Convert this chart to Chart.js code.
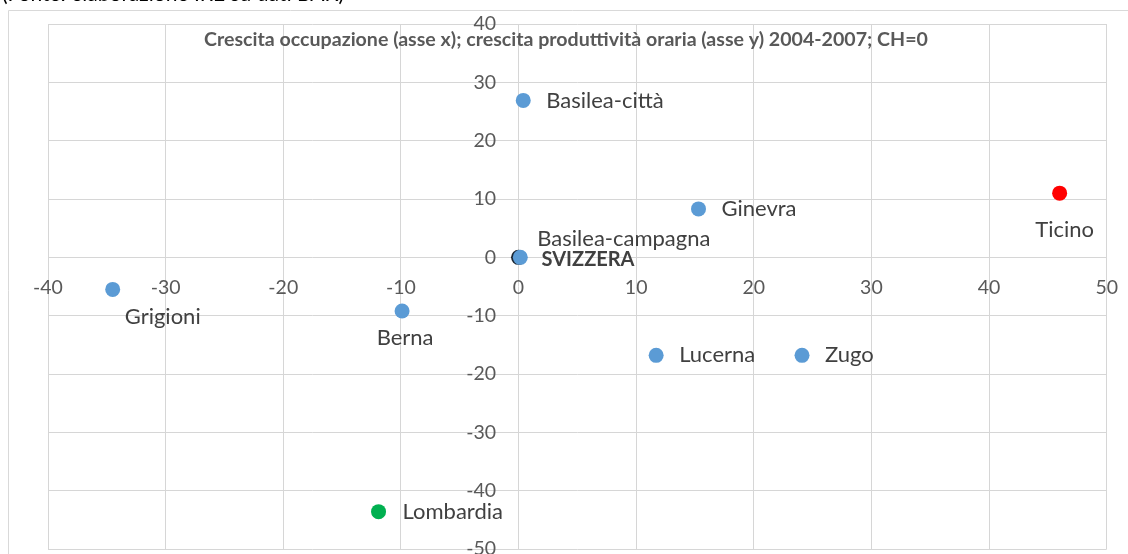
<!DOCTYPE html>
<html><head><meta charset="utf-8">
<script src="https://cdn.jsdelivr.net/npm/chart.js@4.4.1/dist/chart.umd.min.js"></script>
<style>html,body{margin:0;padding:0;background:#fff;overflow:hidden;width:1128px;height:554px}</style>
</head><body>
<canvas id="c" width="1137" height="570" style="display:block"></canvas>
<script>
// ---- data ----
const regions = ['Basilea-città','Ginevra','Ticino','SVIZZERA','Basilea-campagna','Grigioni','Berna','Lucerna','Zugo','Lombardia'];
const occupazione = [0.4, 15.3, 46.0, 0.0, 0.15, -34.5, -9.9, 11.7, 24.1, -11.9];   // asse x
const produttivita = [26.9, 8.3, 11.0, 0.0, 0.0, -5.5, -9.2, -16.8, -16.8, -43.6]; // asse y
const xTickValues = [-40,-30,-20,-10,0,10,20,30,40,50];
const yTickValues = [-50,-40,-30,-20,-10,0,10,20,30,40];
const chartTitle = 'Crescita occupazione (asse x); crescita produttività oraria (asse y) 2004-2007; CH=0';
const sourceNote = '(Fonte: elaborazione IRE su dati BAK)';

// ---- styling ----
const FONT = 'Lato';
const colorFor = {Ticino:'#FF0000', Lombardia:'#00B050', SVIZZERA:'#1b2633'};
const pointColors = regions.map(r => colorFor[r] || '#5B9BD5');
const labelPlacement = {
  'Basilea-città':   {align:'left',   dx:23, dy:0},
  'Ginevra':         {align:'left',   dx:23, dy:0},
  'Ticino':          {align:'center', dx:5,  dy:37},
  'SVIZZERA':        {align:'left',   dx:23, dy:2, bold:true},
  'Basilea-campagna':{align:'left',   dx:17, dy:-18},
  'Grigioni':        {align:'center', dx:50, dy:27},
  'Berna':           {align:'center', dx:3,  dy:27},
  'Lucerna':         {align:'left',   dx:23, dy:0},
  'Zugo':            {align:'left',   dx:23, dy:0},
  'Lombardia':       {align:'left',   dx:24, dy:0}
};

const decor = {
  id:'decor',
  beforeDraw(chart){
    const ctx = chart.ctx;
    ctx.save();
    ctx.strokeStyle = '#d9d9d9'; ctx.lineWidth = 1;
    ctx.beginPath();
    ctx.moveTo(8.5, chart.height); ctx.lineTo(8.5, 10.5); ctx.lineTo(chart.width, 10.5);
    ctx.stroke();
    ctx.fillStyle = '#000';
    ctx.font = '21px ' + FONT;
    ctx.textAlign = 'left'; ctx.textBaseline = 'alphabetic';
    ctx.fillText(sourceNote, 2, 1);
    ctx.restore();
  },
  afterDatasetsDraw(chart){
    const ctx = chart.ctx;
    ctx.save();
    const meta = chart.getDatasetMeta(0);
    meta.data.forEach((el, i) => {
      const name = regions[i];
      const p = labelPlacement[name];
      ctx.font = p.bold ? 'bold 20px ' + FONT : '22px ' + FONT;
      ctx.fillStyle = '#404040';
      ctx.textAlign = p.align; ctx.textBaseline = 'middle';
      ctx.fillText(name, el.x + p.dx, el.y + p.dy);
    });
    ctx.font = 'bold 19.6px ' + FONT;
    ctx.fillStyle = '#595959';
    ctx.textAlign = 'center'; ctx.textBaseline = 'middle';
    ctx.fillText(chartTitle, 566, 40);
    ctx.restore();
  }
};

new Chart(document.getElementById('c'), {
  type:'scatter',
  data:{
    labels: regions,
    datasets:[{
      data: occupazione.map((x,i) => ({x, y: produttivita[i]})),
      pointBackgroundColor: pointColors,
      pointBorderWidth: 0,
      pointRadius: 7.5,
      pointHoverRadius: 7.5
    }]
  },
  options:{
    responsive:false, devicePixelRatio:1, animation:false,
    layout:{padding:{left:48, top:24, right:0, bottom:21}},
    plugins:{legend:{display:false}, tooltip:{enabled:false}, title:{display:false}},
    scales:{
      x:{
        type:'linear', min:-40, max:50, position:{y:0},
        afterBuildTicks: s => { s.ticks = xTickValues.map(v => ({value:v})); },
        grid:{color:'#d6d6d6', lineWidth:1, drawTicks:false},
        border:{display:false},
        ticks:{padding:19, color:'#595959', font:{family:FONT, size:19.5}}
      },
      y:{
        type:'linear', min:-50, max:40, position:{x:-1.9},
        afterBuildTicks: s => { s.ticks = yTickValues.map(v => ({value:v})); },
        grid:{color:'#d6d6d6', lineWidth:1, drawTicks:false},
        border:{display:false},
        ticks:{color:'#595959', font:{family:FONT, size:19.5}}
      }
    }
  },
  plugins:[decor]
});
</script>
</body></html>
